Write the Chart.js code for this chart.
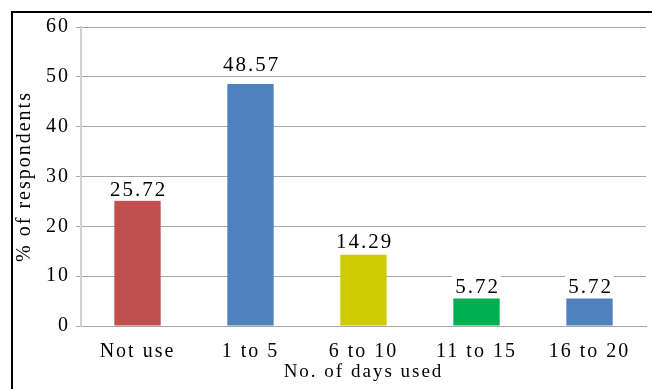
<!DOCTYPE html>
<html>
<head>
<meta charset="utf-8">
<script src="https://cdn.jsdelivr.net/npm/chart.js@4"></script>
<style>
  html, body { margin: 0; padding: 0; background: #fff; }
  #wrap { width: 652px; height: 389px; position: relative; }
</style>
</head>
<body>
<div id="wrap"><canvas id="myChart" width="652" height="389"></canvas></div>
<script>
// data
const categories = ['Not use', '1 to 5', '6 to 10', '11 to 15', '16 to 20'];
const percents = [25.72, 48.57, 14.29, 5.72, 5.72];
const barColors = ['#C0504D', '#4F81BD', '#CCCC00', '#00B050', '#4F81BD'];
const yTicks = [0, 10, 20, 30, 40, 50, 60];

const serif = 'Liberation Serif, Times New Roman, serif';

// spacing between letters, the original text is quite loose
const spacing = {
    id: 'spacing',
    beforeLayout(chart) { chart.ctx.letterSpacing = '2px'; },
    beforeDraw(chart) { chart.ctx.letterSpacing = '2px'; }
};

// black frame on top and left (picture is cropped on the other sides)
const frame = {
    id: 'frame',
    afterDraw(chart) {
        const ctx = chart.ctx;
        ctx.save();
        ctx.strokeStyle = '#000';
        ctx.lineWidth = 2;
        ctx.beginPath();
        ctx.moveTo(12, 389);
        ctx.lineTo(12, 12);
        ctx.lineTo(652, 12);
        ctx.stroke();
        ctx.restore();
    }
};

// value labels with white box above each bar
const valueLabels = {
    id: 'valueLabels',
    afterDatasetsDraw(chart, args, opts) {
        const ctx = chart.ctx;
        const meta = chart.getDatasetMeta(0);
        ctx.save();
        ctx.letterSpacing = '2px';
        ctx.font = '21px ' + serif;
        ctx.textAlign = 'center';
        ctx.textBaseline = 'alphabetic';
        meta.data.forEach((bar, i) => {
            const txt = percents[i].toFixed(2);
            const w = ctx.measureText(txt).width;
            const base = bar.y - opts.offsets[i];
            ctx.fillStyle = '#fff';
            ctx.fillRect(bar.x - w / 2 - 2, base - 18, w + 4, 23);
            ctx.fillStyle = '#000';
            ctx.fillText(txt, bar.x + 1, base);
        });
        ctx.restore();
    }
};

const canvas = document.getElementById('myChart');
const myChart = new Chart(canvas, {
    type: 'bar',
    data: {
        labels: categories,
        datasets: [{
            data: percents,
            backgroundColor: barColors,
            borderWidth: 0,
            categoryPercentage: 1,
            barPercentage: 0.41
        }]
    },
    options: {
        responsive: false,
        animation: false,
        layout: { padding: { top: 27, left: 0, right: 6, bottom: 0 } },
        plugins: {
            legend: { display: false },
            tooltip: { enabled: false },
            valueLabels: { offsets: [2, 13, 7, 4, 4] }
        },
        scales: {
            x: {
                afterFit: s => { s.height = 63; },
                grid: { display: false },
                border: { display: true, color: '#A6A6A6', width: 1 },
                ticks: { color: '#000', font: { family: serif, size: 20 }, padding: 6 },
                title: {
                    display: true,
                    text: 'No. of days used',
                    color: '#000',
                    font: { family: serif, size: 19 },
                    padding: { top: 0, bottom: 6 }
                }
            },
            y: {
                min: 0,
                max: 60,
                afterFit: s => { s.width = 81; },
                afterBuildTicks: s => { s.ticks = yTicks.map(v => ({ value: v })); },
                grid: { color: '#A6A6A6', lineWidth: 1, tickLength: 5, drawTicks: true },
                border: { display: true, color: '#D0D0D0', width: 2 },
                ticks: { color: '#000', font: { family: serif, size: 20 }, padding: 6 },
                title: {
                    display: true,
                    text: '% of respondents',
                    color: '#000',
                    font: { family: serif, size: 20 },
                    padding: { top: 13, bottom: 0 }
                }
            }
        }
    },
    plugins: [spacing, valueLabels, frame]
});
myChart.update();
</script>
</body>
</html>
